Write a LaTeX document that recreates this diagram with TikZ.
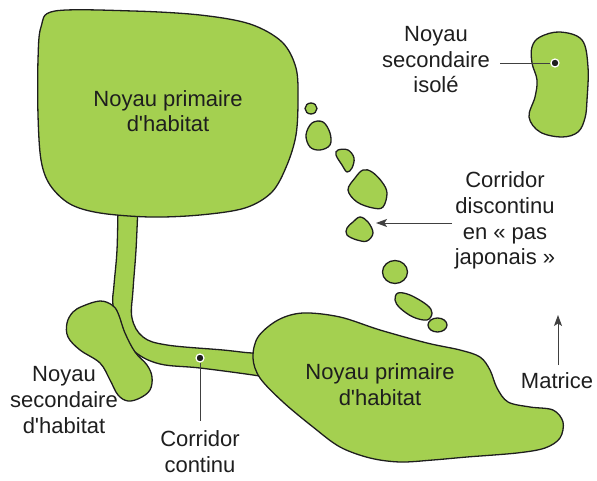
\documentclass[tikz,border=0pt]{standalone}
\usepackage{fontspec}
\setmainfont{Liberation Sans}[Ligatures=TeXOff]
\usetikzlibrary{arrows.meta}
\definecolor{habgreen}{RGB}{164,208,80}
\definecolor{inkc}{RGB}{30,30,30}
\tikzset{
  blob/.style={fill=habgreen, draw=inkc, line width=1.3pt},
  lbl/.style={align=center, inner sep=0pt, anchor=base, text=inkc, font=\fontsize{22}{25.7}\selectfont},
  dotn/.style={circle, fill=inkc, draw=white, line width=1.2pt, inner sep=0pt, minimum size=8pt},
  conn/.style={draw=inkc!85, line width=0.9pt},
  arr/.style={conn, -{Stealth[length=11pt,width=8pt,inset=2.5pt]}}
}
\begin{document}
\begin{tikzpicture}[x=1pt,y=-1pt]
\useasboundingbox (0,0) rectangle (597,481);
% continuous corridor
\filldraw[blob] plot[smooth, tension=0.6] coordinates {(118,205) (117,250) (114,285) (113,305) (120,332) (135,352) (160,364) (200,368) (253,375) (268,378)}
  -- plot[smooth, tension=0.6] coordinates {(268,352) (252,353) (223,350) (167,345) (143,337) (132,318) (133,290) (136,250) (138,205)} -- cycle;
% top primary core
\filldraw[blob] plot[smooth cycle, tension=0.55] coordinates {(55,11) (133,11) (200,15) (250,24) (282,42) (296,68) (298,100) (296,135) (287,165) (272,192) (245,208) (200,215) (150,217) (100,213) (70,204) (50,185) (41,160) (38,115) (38,60) (41,27)};
% left secondary core
\filldraw[blob] plot[smooth cycle, tension=0.6] coordinates {(83,306) (100,301) (112,305) (118,313) (125,333) (135,352) (147,365) (152,377) (150,390) (140,398) (128,401) (118,395) (110,380) (100,363) (80,350) (68,337) (67,323) (73,312)};
% bottom primary core
\filldraw[blob] plot[smooth cycle, tension=0.55] coordinates {(253,358) (258,337) (278,320) (303,313) (340,317) (380,330) (427,343) (460,350) (480,357) (490,370) (497,388) (508,402) (530,407) (553,410) (563,422) (560,438) (545,448) (517,453) (467,457) (433,460) (400,462) (370,458) (340,447) (313,427) (283,402) (260,378)};
% isolated secondary core
\filldraw[blob] plot[smooth cycle, tension=0.6] coordinates {(540,37) (560,32) (582,40) (588,67) (587,100) (585,118) (578,132) (562,137) (540,132) (529,117) (535,97) (537,80) (532,63) (532,47)};
% stepping stones
\filldraw[blob] (311,108.5) ellipse [x radius=6, y radius=5.5];
\filldraw[blob] plot[smooth cycle, tension=0.6] coordinates {(312,123) (323,122) (330,133) (330,145) (320,150) (310,147) (306,135)};
\filldraw[blob] plot[smooth cycle, tension=0.6] coordinates {(338,150) (348,150) (354,158) (352,168) (347,172) (342,165) (336,155)};
\filldraw[blob] plot[smooth cycle, tension=0.6] coordinates {(363,170) (372,172) (382,182) (387,193) (383,207) (373,208) (357,202) (348,190) (355,178)};
\filldraw[blob] plot[smooth cycle, tension=0.6] coordinates {(360,217) (368,222) (373,233) (367,241) (357,240) (347,235) (347,228) (353,222)};
\filldraw[blob] (395,272) ellipse [x radius=12.5, y radius=11.5];
\filldraw[blob] plot[smooth cycle, tension=0.6] coordinates {(398,293) (410,295) (427,305) (432,313) (427,320) (413,317) (400,308) (395,300)};
\filldraw[blob] (437.5,325) ellipse [x radius=9.5, y radius=7];
% labels (anchor = baseline of the last line)
\node[lbl] (topcore) at (168,132) {Noyau primaire\\d'habitat};
\node[lbl] (botcore) at (380,405) {Noyau primaire\\d'habitat};
\node[lbl] (isolbl) at (436,93) {Noyau\\secondaire\\isolé};
\node[lbl] (cdlbl) at (505,265) {Corridor\\discontinu\\en « pas\\japonais »};
\node[lbl] (seclbl) at (64,433) {Noyau\\secondaire\\d'habitat};
\node[lbl] (cclbl) at (200,472) {Corridor\\continu};
\node[lbl] (matlbl) at (557,388) {Matrice};
% dots and connectors
\node[dotn] (isodot) at (555,63) {};
\coordinate (isoend) at (500,63);
\draw[conn] (isoend) -- (isodot);
\node[dotn] (ccdot) at (200,358) {};
\coordinate (ccend) at (200,421);
\draw[conn] (ccdot) -- (ccend);
\coordinate (cdstart) at (452,223);
\coordinate (cdtip) at (376,223);
\draw[arr] (cdstart) -- (cdtip);
\coordinate (matstart) at (558,365);
\coordinate (mattip) at (558,315);
\draw[arr] (matstart) -- (mattip);
\end{tikzpicture}
\end{document}
